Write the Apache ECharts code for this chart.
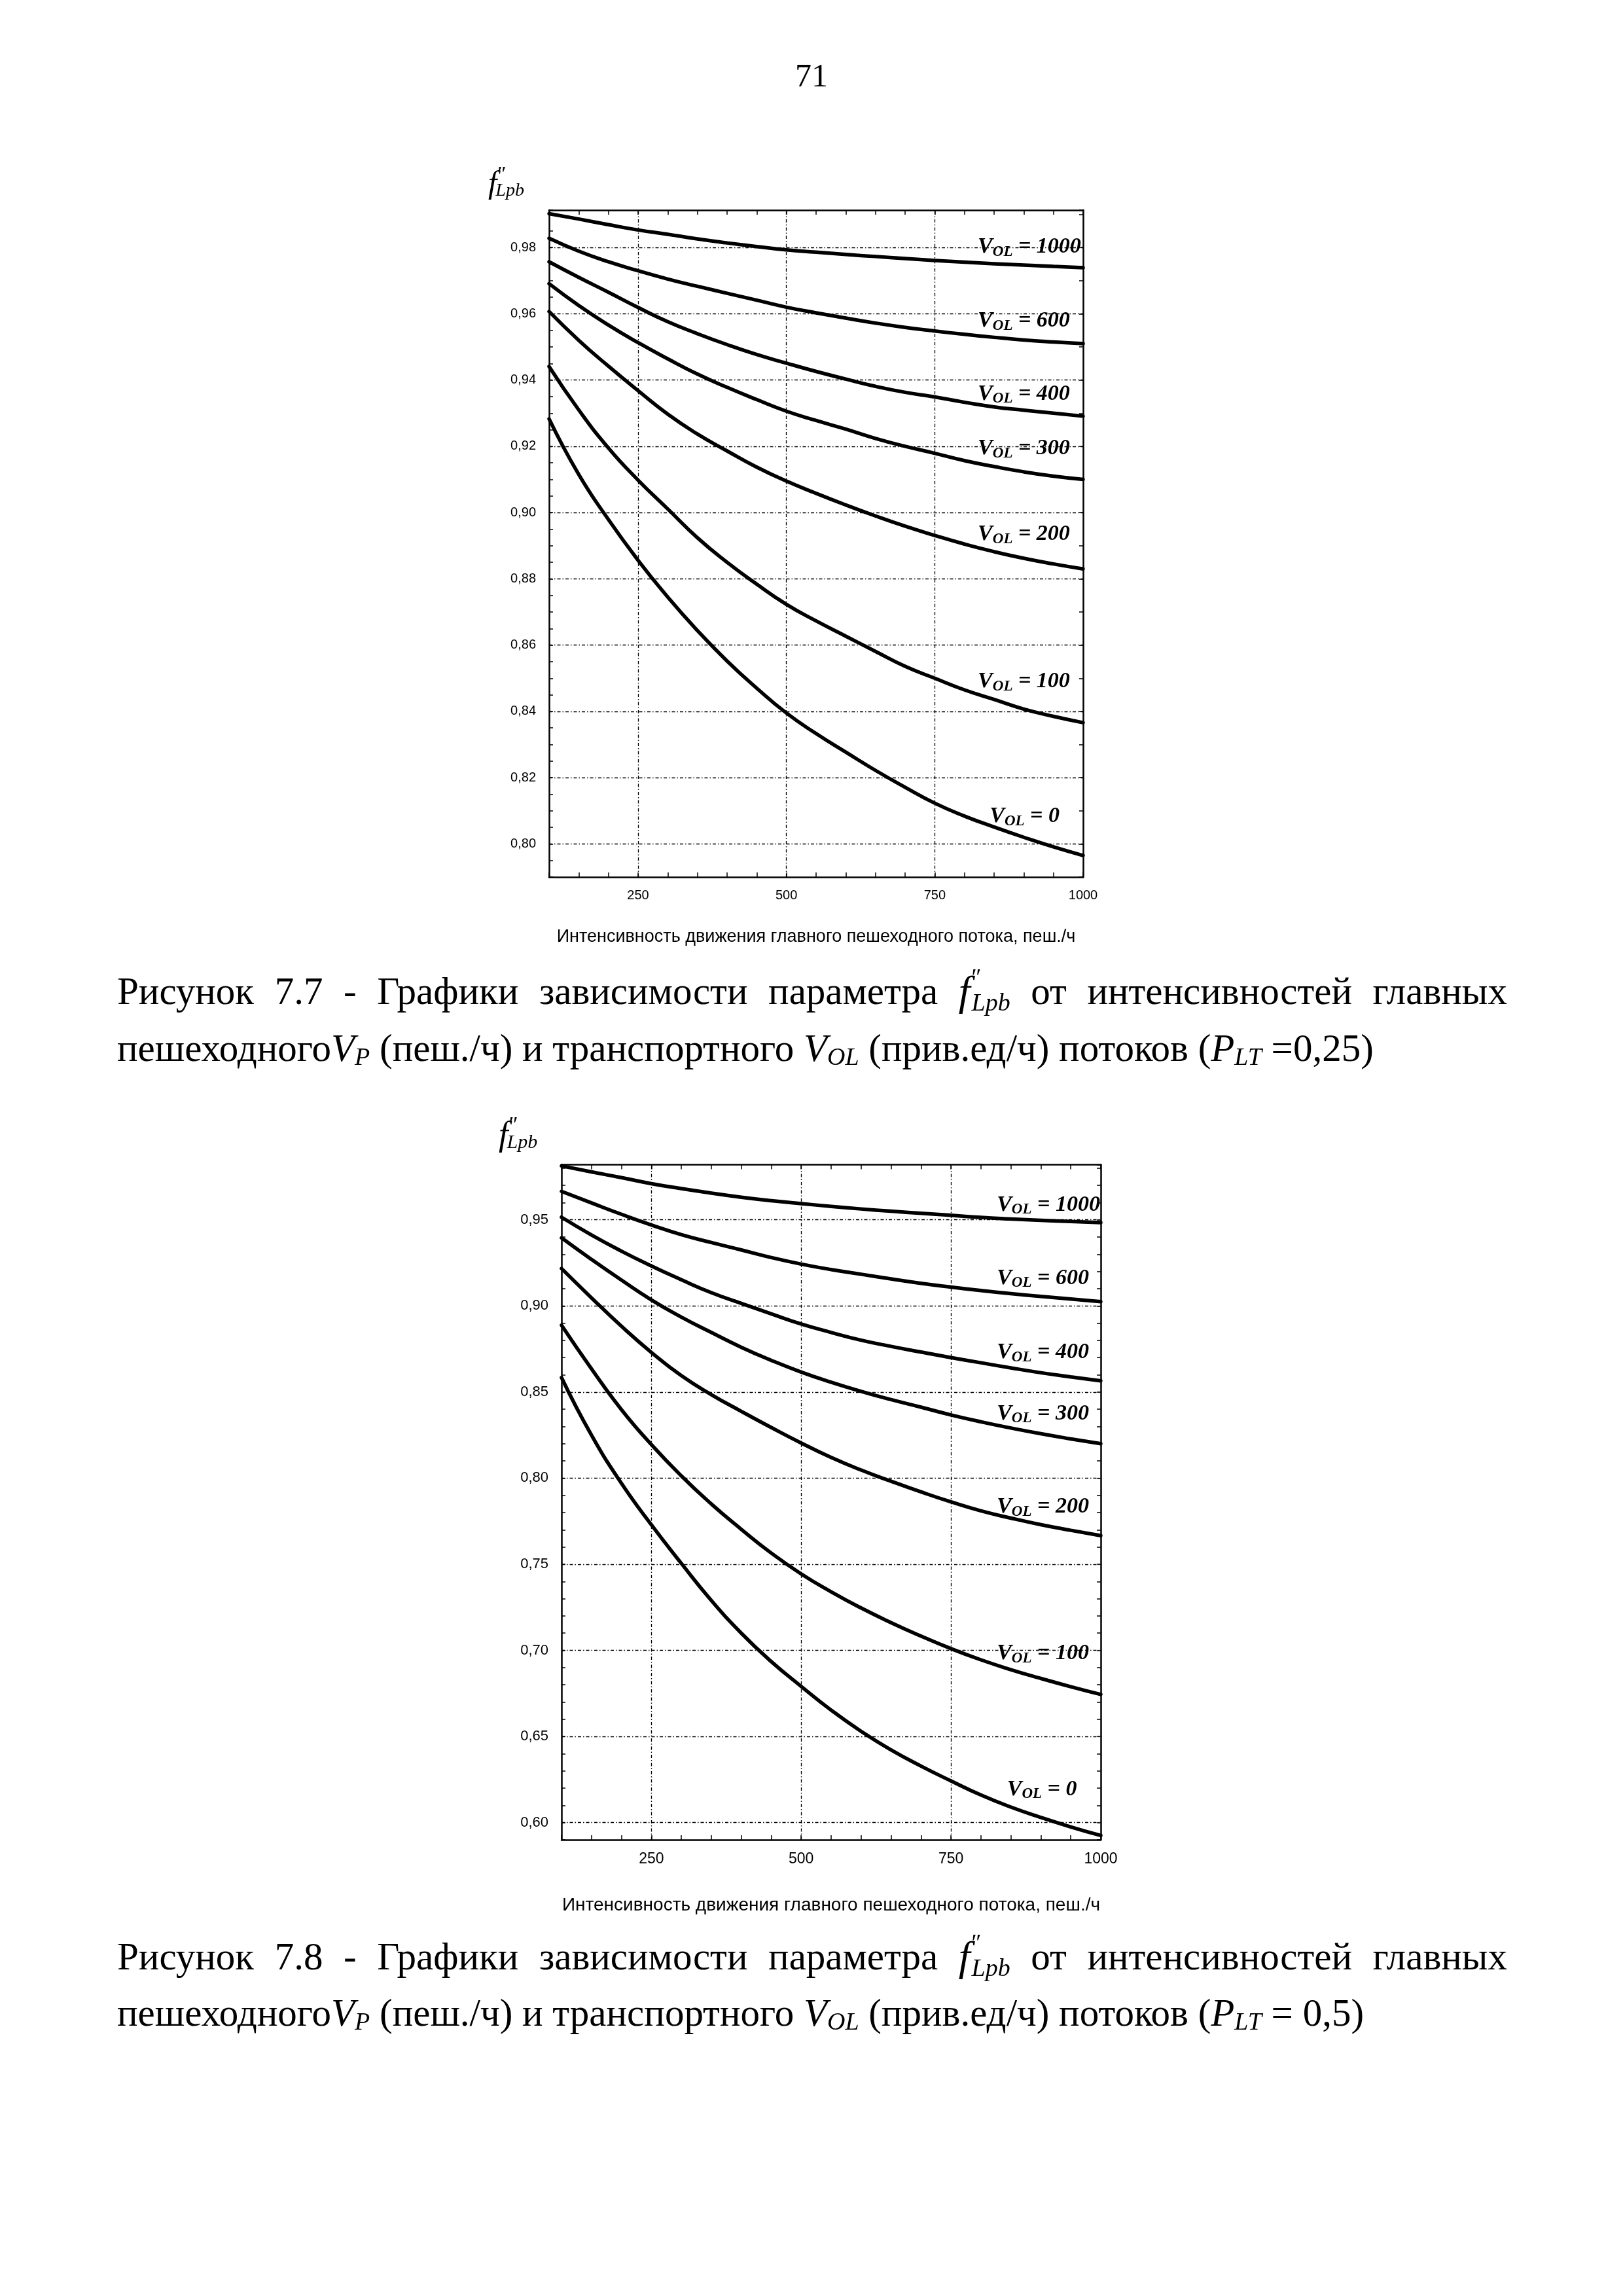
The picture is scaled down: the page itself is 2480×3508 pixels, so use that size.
<!DOCTYPE html>
<html><head><meta charset="utf-8">
<script src="https://cdn.jsdelivr.net/npm/echarts@6/dist/echarts.min.js"></script>
<style>html,body{margin:0;padding:0;background:#fff}#c{width:2480px;height:3508px}</style>
</head><body><div id="c"></div>
<script>
// ---------------- DATA ----------------
const xValues = [100,150,200,250,300,350,400,450,500,550,600,650,700,750,800,850,900,950,1000];
const volLevels = [1000, 600, 400, 300, 200, 100, 0];

// Figure 7.7 (P_LT = 0,25)
const f77_v1000 = [0.9902,0.9886,0.9869,0.9853,0.9840,0.9826,0.9814,0.9803,0.9793,0.9786,0.9779,0.9773,0.9767,0.9761,0.9756,0.9751,0.9747,0.9743,0.9739];
const f77_v600  = [0.9828,0.9789,0.9757,0.9730,0.9705,0.9683,0.9662,0.9641,0.9620,0.9603,0.9587,0.9572,0.9559,0.9548,0.9538,0.9529,0.9521,0.9515,0.9510];
const f77_v400  = [0.9757,0.9710,0.9665,0.9619,0.9576,0.9540,0.9507,0.9477,0.9451,0.9426,0.9403,0.9381,0.9363,0.9349,0.9333,0.9319,0.9309,0.9300,0.9291];
const f77_v300  = [0.9691,0.9625,0.9566,0.9513,0.9464,0.9418,0.9378,0.9341,0.9306,0.9278,0.9252,0.9224,0.9200,0.9179,0.9157,0.9139,0.9123,0.9110,0.9100];
const f77_v200  = [0.9607,0.9520,0.9442,0.9368,0.9297,0.9237,0.9186,0.9137,0.9095,0.9058,0.9023,0.8990,0.8959,0.8931,0.8905,0.8882,0.8862,0.8845,0.8830];
const f77_v100  = [0.9441,0.9310,0.9195,0.9098,0.9011,0.8924,0.8850,0.8784,0.8723,0.8673,0.8627,0.8581,0.8536,0.8500,0.8465,0.8436,0.8407,0.8385,0.8366];
const f77_v0    = [0.9283,0.9115,0.8979,0.8856,0.8745,0.8644,0.8552,0.8470,0.8395,0.8333,0.8277,0.8222,0.8171,0.8123,0.8084,0.8051,0.8020,0.7991,0.7965];

// Figure 7.8 (P_LT = 0,5)
const f78_v1000 = [0.9813,0.9778,0.9745,0.9710,0.9681,0.9655,0.9631,0.9611,0.9594,0.9578,0.9563,0.9550,0.9538,0.9526,0.9514,0.9505,0.9497,0.9490,0.9484];
const f78_v600  = [0.9665,0.9598,0.9532,0.9470,0.9414,0.9368,0.9325,0.9281,0.9243,0.9211,0.9184,0.9157,0.9131,0.9109,0.9089,0.9071,0.9055,0.9040,0.9025];
const f78_v400  = [0.9515,0.9412,0.9318,0.9232,0.9152,0.9077,0.9015,0.8954,0.8895,0.8846,0.8801,0.8765,0.8732,0.8700,0.8670,0.8640,0.8612,0.8588,0.8565];
const f78_v300  = [0.9395,0.9270,0.9150,0.9035,0.8935,0.8846,0.8760,0.8684,0.8616,0.8557,0.8504,0.8456,0.8412,0.8367,0.8327,0.8291,0.8258,0.8228,0.8200];
const f78_v200  = [0.9217,0.9047,0.8882,0.8730,0.8595,0.8485,0.8388,0.8294,0.8204,0.8120,0.8047,0.7982,0.7920,0.7862,0.7810,0.7768,0.7730,0.7697,0.7666];
const f78_v100  = [0.8888,0.8635,0.8398,0.8195,0.8013,0.7850,0.7703,0.7565,0.7444,0.7340,0.7246,0.7161,0.7083,0.7010,0.6945,0.6888,0.6837,0.6789,0.6744];
const f78_v0    = [0.8584,0.8250,0.7970,0.7729,0.7505,0.7290,0.7100,0.6935,0.6791,0.6653,0.6530,0.6422,0.6328,0.6242,0.6160,0.6090,0.6030,0.5975,0.5925];

// tick labels / grid values
const xTickLabels = [250, 500, 750, 1000];
const xGridValues = [250, 500, 750];
const f77_yTickLabels = [0.80,0.82,0.84,0.86,0.88,0.90,0.92,0.94,0.96,0.98];
const f78_yTickLabels = [0.60,0.65,0.70,0.75,0.80,0.85,0.90,0.95];

// curve label anchors (data units: left edge x, centre y)
const f77_labelAnchors = [[822,0.9802],[822,0.9579],[822,0.9358],[822,0.9193],[822,0.8935],[822,0.8490],[842,0.8083]];
const f78_labelAnchors = [[826,0.9587],[826,0.9161],[826,0.8730],[826,0.8375],[826,0.7832],[826,0.6981],[843,0.6193]];

const xAxisTitle = 'Интенсивность движения главного пешеходного потока, пеш./ч';

// ---------------- BUILD ----------------
const SERIF = '"Liberation Serif","Times New Roman",serif';
const SANS = '"Liberation Sans",Arial,sans-serif';
const f77_series = [f77_v1000,f77_v600,f77_v400,f77_v300,f77_v200,f77_v100,f77_v0];
const f78_series = [f78_v1000,f78_v600,f78_v400,f78_v300,f78_v200,f78_v100,f78_v0];
const isIn = (arr, v) => arr.some(a => Math.abs(a - v) < 1e-7);

const gridLineStyle = {color:'#000', width:1.3, type:[5,3,1.5,3]};

function xAxes(gi, fs, nameFs, nameGap){
  return [{
    gridIndex:gi, type:'value', position:'bottom', min:100, max:1000, interval:50,
    axisLine:{show:true,onZero:false,lineStyle:{color:'#000',width:2.5}},
    axisTick:{show:true,inside:true,length:7,lineStyle:{color:'#000',width:1.5}},
    splitLine:{show:false},
    axisLabel:{show:true,margin:18,color:'#000',fontFamily:SANS,fontSize:fs,
      formatter:v=>isIn(xTickLabels,v)?String(v):''},
    name:xAxisTitle,nameLocation:'middle',nameGap:nameGap,
    nameTextStyle:{color:'#000',fontFamily:SANS,fontSize:nameFs}
  },{
    gridIndex:gi, type:'value', position:'top', min:100, max:1000, interval:50,
    axisLine:{show:true,onZero:false,lineStyle:{color:'#000',width:2.5}},
    axisTick:{show:true,inside:true,length:7,lineStyle:{color:'#000',width:1.5}},
    splitLine:{show:false}, axisLabel:{show:false}
  }];
}
function yAxes(gi, min, max, leftInt, labels, fs){
  return [{
    gridIndex:gi, type:'value', position:'left', min:min, max:max, interval:leftInt,
    axisLine:{show:true,onZero:false,lineStyle:{color:'#000',width:2.5}},
    axisTick:{show:true,inside:true,length:6,lineStyle:{color:'#000',width:1.5}},
    splitLine:{show:false},
    axisLabel:{show:true,margin:20,color:'#000',fontFamily:SANS,fontSize:fs,
      formatter:v=>isIn(labels,v)?v.toFixed(2).replace('.',','):''}
  },{
    gridIndex:gi, type:'value', position:'right', min:min, max:max, interval:0.01,
    axisLine:{show:true,onZero:false,lineStyle:{color:'#000',width:2.5}},
    axisTick:{show:true,inside:true,length:6,lineStyle:{color:'#000',width:1.5}},
    splitLine:{show:false}, axisLabel:{show:false}
  }];
}

const labelRich = {
  v:{fontFamily:SERIF,fontSize:34,fontWeight:'bold',fontStyle:'italic',color:'#000',lineHeight:38},
  s:{fontFamily:SERIF,fontSize:23,fontWeight:'bold',fontStyle:'italic',color:'#000',lineHeight:27,verticalAlign:'bottom'}
};

function buildSeries(seriesArr, anchors, xi, yi, yGrid){
  const out = [];
  out.push({type:'line', xAxisIndex:xi, yAxisIndex:yi, data:[], z:1, silent:true,
    markLine:{symbol:['none','none'], silent:true, animation:false, label:{show:false},
      lineStyle:gridLineStyle,
      data:[...xGridValues.map(v=>({xAxis:v})), ...yGrid.map(v=>({yAxis:v}))]}});
  seriesArr.forEach((arr, k) => {
    out.push({
      type:'line', xAxisIndex:xi, yAxisIndex:yi, name:'V_OL='+volLevels[k],
      data:xValues.map((x,j)=>[x,arr[j]]),
      showSymbol:false, smooth:0.5, z:3,
      lineStyle:{color:'#000',width:5.5,cap:'round',join:'round'}, itemStyle:{color:'#000'},
      markPoint:{symbol:'circle',symbolSize:1,itemStyle:{color:'rgba(0,0,0,0)'},silent:true,animation:false,
        data:[{coord:anchors[k]}],
        label:{show:true,position:'right',distance:0,
          formatter:'{v|V}{s|OL}{v| = '+volLevels[k]+'}', rich:labelRich}}
    });
  });
  return out;
}

// text measuring for captions
const mctx = document.createElement('canvas').getContext('2d');
function tw(t, size, italic){ mctx.font=(italic?'italic ':'')+size+'px "Liberation Serif"'; return mctx.measureText(t).width; }
function txt(t, x, y, size, italic, extra){
  return {type:'text', x:x, y:y, silent:true, z:10,
    style:Object.assign({text:t, fontSize:size, fontFamily:SERIF, fontStyle:italic?'italic':'normal',
      fill:'#000', textAlign:'left', textVerticalAlign:'middle', align:'left', verticalAlign:'middle'}, extra||{})};
}
function partsWidth(parts){ let w=0; parts.forEach(p=>{ if(!p.noAdv) w+=tw(p.t,p.size,p.italic)+(p.gap||0); }); return w; }
function runParts(parts, x0, y, els){
  let x=x0;
  parts.forEach(p=>{ els.push(txt(p.t, x, y+(p.dy||0), p.size, p.italic)); if(!p.noAdv) x+=tw(p.t,p.size,p.italic)+(p.gap||0); });
  return x;
}
const FS = 59, SUB = 38;
function captionLine1(num, y, els){
  const W = t=>[{t:t,size:FS}];
  const fl = [{t:'f',size:64,italic:true,gap:2},{t:'″',size:36,dy:-22,noAdv:true},{t:'Lpb',size:SUB,italic:true,dy:16}];
  const words = [W('Рисунок'),W(num),W('-'),W('Графики'),W('зависимости'),W('параметра'),fl,W('от'),W('интенсивностей'),W('главных')];
  const left=179, right=2303;
  const total = words.reduce((s,w)=>s+partsWidth(w),0);
  const gap = (right-left-total)/(words.length-1);
  let x=left;
  words.forEach(w=>{ runParts(w,x,y,els); x+=partsWidth(w)+gap; });
}
function captionLine2(plt, y, els){
  const parts = [
    {t:'пешеходного',size:FS},{t:'V',size:FS,italic:true},{t:'P',size:SUB,italic:true,dy:12},
    {t:' (пеш./ч) и транспортного ',size:FS},{t:'V',size:FS,italic:true},{t:'OL',size:SUB,italic:true,dy:12},
    {t:' (прив.ед/ч) потоков (',size:FS},{t:'P',size:FS,italic:true},{t:'LT',size:SUB,italic:true,dy:12},
    {t:plt+')',size:FS}];
  runParts(parts,179,y,els);
}
function axisName(x, y, fSize, subSize, els){
  els.push(txt('f', x, y, fSize, true));
  const fw = tw('f', fSize, true);
  els.push(txt('″', x+fw+1, y-fSize*0.3, subSize+4, false));
  els.push(txt('Lpb', x+fw-2, y+fSize*0.2, subSize, true));
}

const graphics = [];
graphics.push(txt('71', 1240, 119, 50, false, {textAlign:'center', align:'center'}));
axisName(746, 282, 48, 28, graphics);
axisName(762, 1736, 52, 30, graphics);
captionLine1('7.7', 1518, graphics);
captionLine2(' =0,25', 1605, graphics);
captionLine1('7.8', 2993, graphics);
captionLine2(' = 0,5', 3079, graphics);

const option = {
  animation:false,
  backgroundColor:'#fff',
  grid:[
    {left:839, top:321, width:816, height:1019, containLabel:false},
    {left:858, top:1779.5, width:824, height:1031.5, containLabel:false}
  ],
  xAxis:[...xAxes(0,20,27,78), ...xAxes(1,23,28,86)],
  yAxis:[...yAxes(0,0.79,0.9913,0.005,f77_yTickLabels,20), ...yAxes(1,0.59,0.982,0.01,f78_yTickLabels,22)],
  series:[...buildSeries(f77_series,f77_labelAnchors,0,0,f77_yTickLabels),
          ...buildSeries(f78_series,f78_labelAnchors,2,2,f78_yTickLabels)],
  graphic:graphics
};
const chart = echarts.init(document.getElementById('c'), null, {renderer:'canvas', width:2480, height:3508});
chart.setOption(option);
</script></body></html>
